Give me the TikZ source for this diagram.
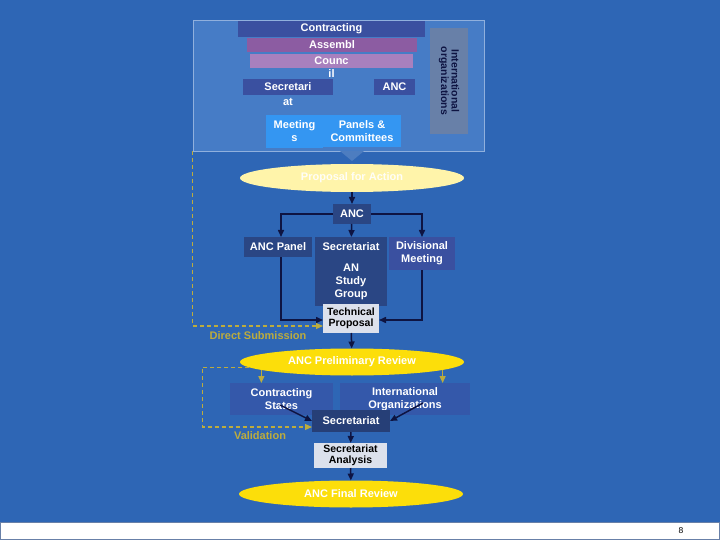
\documentclass[tikz,border=0pt]{standalone}
\usepackage{fontspec}
\setmainfont{Liberation Sans}
\usetikzlibrary{shapes, positioning, arrows.meta, calc, backgrounds}

\definecolor{slideblue}{RGB}{46,102,181}
\definecolor{panelblue}{RGB}{70,124,198}
\definecolor{navybox}{RGB}{42,70,132}
\definecolor{tierblue}{RGB}{58,80,160}
\definecolor{tierpurple}{RGB}{140,92,162}
\definecolor{tierlilac}{RGB}{168,128,190}
\definecolor{skyblue}{RGB}{52,150,242}
\definecolor{slategrey}{RGB}{104,128,168}
\definecolor{paleyellow}{RGB}{255,244,170}
\definecolor{sunyellow}{RGB}{252,222,10}
\definecolor{olive}{RGB}{188,172,62}
\definecolor{arrownavy}{RGB}{14,20,66}
\definecolor{paper}{RGB}{220,225,236}
\definecolor{stateblue}{RGB}{52,88,170}

\begin{document}
\begin{tikzpicture}[
    x=1pt, y=-1pt,
    box/.style={
        rectangle,
        inner sep=1pt,
        outer sep=0pt,
        align=center,
        text=white,
        font=\bfseries\fontsize{11}{13}\selectfont
    },
    paperbox/.style={
        box,
        fill=paper,
        text=black,
        font=\bfseries\fontsize{10.5}{11}\selectfont
    },
    review/.style={
        ellipse,
        inner sep=0pt,
        outer sep=0pt,
        minimum width=224pt,
        minimum height=27pt,
        text=white,
        font=\bfseries\fontsize{11}{13}\selectfont
    },
    flow/.style={
        -{Triangle[length=7pt, width=6pt]},
        line width=1.5pt,
        color=arrownavy
    },
    dashflow/.style={
        -{Triangle[length=7pt, width=6pt]},
        line width=1.2pt,
        color=olive,
        dash pattern=on 4pt off 3pt
    },
    note/.style={
        text=olive,
        font=\bfseries\fontsize{11}{13}\selectfont
    }
]

    % Slide background
    \fill[slideblue] (0,0) rectangle (720,540);
    \useasboundingbox (0,0) rectangle (720,540);

    % Footer band
    \fill[white] (0,522) rectangle (720,540);
    \draw[slategrey, thin] (0.5,522) rectangle (719.5,539.5);
    \node[font=\fontsize{8.5}{10}\selectfont] (pagenum) at (681,531) {8};

    % -- ICAO organisation panel --
    \node[rectangle, fill=panelblue, draw=panelblue!60!white, thin,
        minimum width=291pt, minimum height=131pt, inner sep=0pt] (orgpanel) at (338.5,85.5) {};
    \fill[panelblue!80!slategrey] (340,151) -- (364,151) -- (352,161) -- cycle;

    \node[box, fill=tierblue, minimum width=187pt, minimum height=16pt] (contracting) at (331.5,29) {Contracting};
    \node[box, fill=tierpurple, minimum width=170pt, minimum height=14pt] (assembly) at (332,45) {Assembl};
    \node[box, fill=tierlilac, minimum width=163pt, minimum height=14pt] (council) at (331.5,61) {Counc};
    \node[box, below=1pt of council] (councilrest) {il};
    \node[box, fill=tierblue, minimum width=90pt, minimum height=16pt] (secretari) at (288,87) {Secretari};
    \node[box, below=2pt of secretari] (secretarirest) {at};
    \node[box, fill=tierblue, minimum width=41pt, minimum height=16pt] (topanc) at (394.5,87) {ANC};
    \node[box, fill=skyblue, minimum width=57pt, minimum height=33pt] (meetings) at (294.5,131.5) {Meeting\\s};
    \node[box, fill=skyblue, minimum width=78pt, minimum height=32pt] (panels) at (362,131) {Panels \&\\Committees};
    \node[box, fill=slategrey, text=arrownavy, rotate=-90, minimum width=106pt, minimum height=38pt,
        font=\bfseries\fontsize{10.5}{10.5}\selectfont] (intlorg) at (449,81) {International\\organizations};

    % -- Proposal stage --
    \node[review, fill=paleyellow, text=white!90!paleyellow, minimum height=28pt] (proposal) at (352,178) {Proposal for Action};
    \node[box, fill=navybox, minimum width=38pt, minimum height=20pt] (anc) at (352,214) {ANC};

    \node[box, fill=navybox, minimum width=68pt, minimum height=20pt] (ancpanel) at (278,247) {ANC Panel};
    \node[box, fill=navybox, minimum width=72pt, minimum height=20pt] (secretariat) at (351,247) {Secretariat};
    \node[box, fill=navybox, minimum width=72pt, minimum height=49pt, below=0pt of secretariat] (studygroup) {AN\\Study\\Group};
    \node[box, fill=tierblue, minimum width=66pt, minimum height=33pt] (divisional) at (422,253.5) {Divisional\\Meeting};

    \node[paperbox, minimum width=56pt, minimum height=29pt] (technical) at (351,318.5) {Technical\\Proposal};

    % Arrows from ANC
    \draw[flow] (proposal) -- (anc);
    \draw[flow] (anc.west) -| ([xshift=3pt]ancpanel.north);
    \draw[flow] (anc.east) -| (divisional.north);
    \draw[flow] (anc) -- (secretariat);
    \draw[flow] ([xshift=3pt]ancpanel.south) |- ([yshift=-1.5pt]technical.west);
    \draw[flow] (divisional.south) |- ([yshift=-1.5pt]technical.east);

    % Direct Submission
    \draw[dashflow] (orgpanel.south west) |- ([yshift=-7.5pt]technical.west);
    \node[note] (directlabel) at (258,336) {Direct Submission};

    % -- Review stage --
    \node[review, fill=sunyellow] (prelim) at (352,362) {ANC Preliminary Review};
    \draw[flow] (technical) -- (prelim);

    \node[box, fill=stateblue, minimum width=103pt, minimum height=32pt] (states) at (281.5,399) {Contracting\\States};
    \node[box, fill=stateblue, minimum width=130pt, minimum height=32pt] (intlorgs) at (405,399) {International\\Organizations};
    \draw[dashflow, solid] (prelim.185) -- (prelim.185 |- states.north);
    \draw[dashflow, solid] (prelim.355) -- (prelim.355 |- intlorgs.north);

    \node[box, fill=navybox!90!black, minimum width=78pt, minimum height=22pt] (secretariat2) at (351,421) {Secretariat};
    \draw[flow] ([xshift=-1.5pt, yshift=-6pt]states.center) -- (secretariat2.west);
    \draw[flow] ([xshift=18pt, yshift=-4pt]intlorgs.center) -- (secretariat2.east);

    % Validation
    \draw[dashflow] (prelim.183) -- ++(-47,0) |- ([yshift=-6pt]secretariat2.west);
    \node[note] (validlabel) at (260,436) {Validation};

    \node[paperbox, minimum width=73pt, minimum height=25pt] (analysis) at (350.5,455.5) {Secretariat\\Analysis};
    \draw[flow] (secretariat2) -- (analysis);

    \node[review, fill=sunyellow] (final) at (351,494) {ANC Final Review};
    \draw[flow] (analysis) -- (final);

\end{tikzpicture}
\end{document}
